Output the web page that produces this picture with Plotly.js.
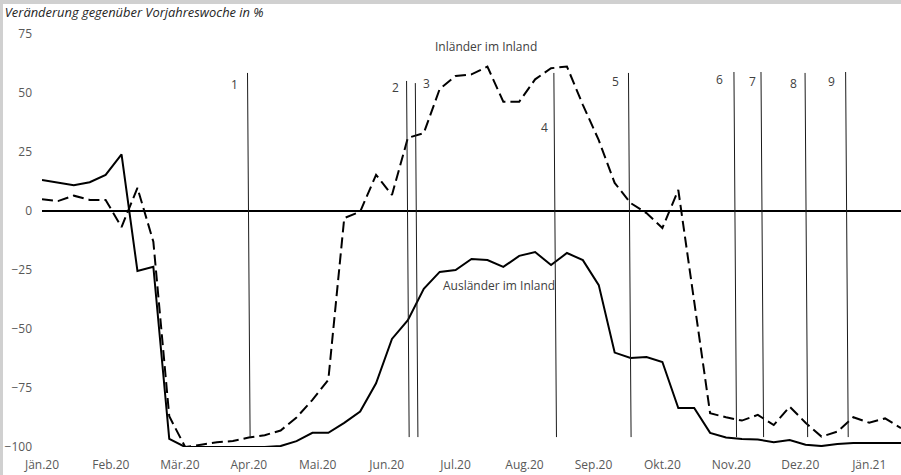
<!DOCTYPE html>
<html>
<head>
<meta charset="utf-8">
<script src="https://cdn.plot.ly/plotly-3.0.1.min.js"></script>
<style>
  html, body { margin: 0; padding: 0; background: #d0d0d0; }
  #chart { position: absolute; left: 3px; top: 4px; width: 898px; height: 471px; background: #ffffff; }
</style>
</head>
<body>
<div id="chart"></div>
<script>
// Week numbers (x positions, weekly data)
const weeks = Array.from({length: 55}, (_, i) => i + 1);

// Month tick labels
const monthLabels = ["Jän.20","Feb.20","Mär.20","Apr.20","Mai.20","Jun.20","Jul.20","Aug.20","Sep.20","Okt.20","Nov.20","Dez.20","Jän.21"];
const monthWeeks = [1, 5.33, 9.67, 14, 18.33, 22.67, 27, 31.33, 35.67, 40, 44.33, 48.67, 53];

// Inländer im Inland (dashed), change vs. same week previous year, %
const inlaender = [5, 4.2, 6.5, 4.7, 4.7, -6.8, 9.8, -13, -87, -100,
  -99, -98, -97.5, -96, -95, -93, -87.5, -80, -71.5, -3,
  -0.3, 15.3, 6.8, 31, 33, 51.7, 57.2, 57.9, 61.2, 46.3,
  46.3, 55.8, 60.5, 61.2, 45, 30, 11.9, 3.4, -0.9, -7.2,
  8.9, -37.5, -85.7, -87.4, -88.8, -86.4, -90.7, -82.9, -89.7, -95.6,
  -93.5, -87.4, -89.7, -87.9, -92];

// Ausländer im Inland (solid)
const auslaender = [13.1, 12.1, 10.9, 12.2, 15.3, 24, -25.4, -23.6, -96.6, -100,
  -100, -100, -100, -100, -100, -99.6, -97.5, -94, -94, -89.8,
  -85, -73, -54.2, -46.3, -33, -25.8, -25, -20.3, -20.8, -23.7,
  -19, -17.4, -22.9, -17.8, -20.8, -31.4, -60, -62.3, -61.9, -64,
  -83.5, -83.5, -94, -96, -96.6, -96.8, -98, -97, -99, -99.6,
  -98.7, -98.3, -98.3, -98.3, -98.3];

// Event markers (vertical lines) 1..9
const eventLabels = ["1","2","3","4","5","6","7","8","9"];
const eventWeeks = [14.0, 24.0, 24.55, 33.26, 37.95, 44.58, 46.28, 49.05, 51.6];
const eventTops = [58.5, 55.1, 54.2, 58.5, 58.5, 58.9, 58.9, 58.5, 58.9];
const eventBottom = -95.8;
const eventLabelY = [53.8, 52.5, 54.2, 35.2, 54.7, 55.9, 54.7, 54.2, 55.0];
const eventLabelShift = [-14, -12, 10, -11, -14, -16, -10, -13, -15];

const textColor = "#404040";
const font = {family: "Open Sans, Noto Sans, sans-serif", size: 12, color: textColor};

const traces = [
  {x: weeks, y: auslaender, type: "scatter", mode: "lines", name: "Ausländer im Inland",
   line: {color: "#000000", width: 2}},
  {x: weeks, y: inlaender, type: "scatter", mode: "lines", name: "Inländer im Inland",
   line: {color: "#000000", width: 2, dash: "11px,5px"}}
];

const shapes = eventWeeks.map((w, i) => ({
  type: "line", xref: "x", yref: "y", xsizemode: "pixel", xanchor: w,
  x0: -1.3, x1: 1.3, y0: eventTops[i], y1: eventBottom,
  line: {color: "#1a1a1a", width: 1}
}));

const annotations = eventLabels.map((t, i) => ({
  x: eventWeeks[i], y: eventLabelY[i], xref: "x", yref: "y", text: t,
  showarrow: false, xshift: eventLabelShift[i], font: font
}));
annotations.push({x: 28.9, y: 69.9, xref: "x", yref: "y", text: "Inländer im Inland", showarrow: false, font: font});
annotations.push({x: 29.7, y: -31.4, xref: "x", yref: "y", text: "Ausländer im Inland", showarrow: false, font: font});

const layout = {
  width: 898, height: 471,
  margin: {l: 39, r: 0, t: 30, b: 28},
  paper_bgcolor: "#ffffff", plot_bgcolor: "#ffffff",
  showlegend: false,
  font: font,
  title: {text: "<i>Veränderung gegenüber Vorjahreswoche in %</i>", xref: "container", yref: "container",
          x: 0.002, xanchor: "left", y: 0.981, yanchor: "middle",
          font: {family: "Open Sans, Noto Sans, sans-serif", size: 12.9, color: "#262626"}},
  xaxis: {range: [1, 55], tickmode: "array", tickvals: monthWeeks, ticktext: monthLabels,
          showgrid: false, zeroline: false, showline: false, ticks: "", ticklabelstandoff: 9,
          tickfont: {family: "Open Sans, Noto Sans, sans-serif", size: 12, color: "#595959"}, fixedrange: true},
  yaxis: {range: [-100, 75], tickmode: "array", tickvals: [-100, -75, -50, -25, 0, 25, 50, 75],
          showgrid: false, zeroline: true, zerolinecolor: "#000000", zerolinewidth: 2,
          showline: false, ticks: "", ticklabelstandoff: 9,
          tickfont: {family: "Open Sans, Noto Sans, sans-serif", size: 12, color: "#595959"}, fixedrange: true},
  shapes: shapes,
  annotations: annotations
};

Plotly.newPlot("chart", traces, layout, {displayModeBar: false, staticPlot: true});
</script>
</body>
</html>
